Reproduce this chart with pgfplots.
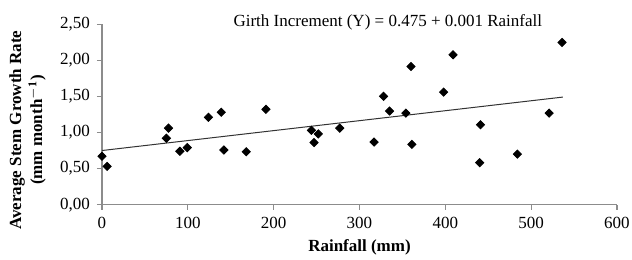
\documentclass[border=0pt]{standalone}
\usepackage{fontspec}
\setmainfont{Liberation Serif}
\usepackage{pgfplots}
\pgfplotsset{compat=1.18}
\definecolor{axgray}{HTML}{8C8C8C}
\begin{document}
\begin{tikzpicture}
\begin{axis}[
  at={(0,0)}, anchor=south west,
  scale only axis,
  width=257.5pt, height=90.3pt,
  xmin=0, xmax=600, ymin=0, ymax=2.5,
  xtick={0,100,...,600},
  ytick={0,0.5,...,2.5},
  axis x line*=bottom, axis y line*=left,
  axis line style={axgray, line width=0.6pt},
  tick style={axgray, line width=0.6pt},
  tick align=outside,
  major tick length=2.5pt,
  /pgf/number format/assume math mode=true,
  tick label style={font=\fontsize{8.5}{10}\selectfont, text=black},
  y tick label style={/pgf/number format/.cd, fixed, fixed zerofill, precision=2, use comma},
  x tick label style={/pgf/number format/.cd, fixed, precision=0},
  xlabel={\textbf{Rainfall (mm)}},
  xlabel style={font=\fontsize{8.5}{10}\selectfont, at={(axis description cs:0.5,0)}, anchor=center, yshift=-21.5pt},
  ylabel={\textbf{Average Stem Growth Rate}\\\textbf{(mm month$^{\mathbf{-1}}$)}},
  ylabel style={font=\fontsize{8.5}{10.5}\selectfont, align=center, at={(axis description cs:-0.1447,0.413)}, anchor=center, rotate=0},
  clip=false,
]
\addplot[only marks, mark=square*, mark size=1.45pt, mark options={rotate=45, fill=black, draw=black}] coordinates {
(0,0.67) (6,0.53) (75,0.92) (77.5,1.06) (90.7,0.74) (99.3,0.79)
(124,1.21) (139,1.28) (142,0.757) (168,0.733) (191,1.32)
(244,1.03) (247,0.86) (252,0.98) (277,1.06) (317,0.867)
(328,1.50) (335,1.296) (354,1.268) (360,1.914) (361,0.835)
(398,1.559) (409,2.075) (441,1.107) (440,0.581) (484,0.70)
(521,1.268) (536,2.246)
};
\addplot[no marks, black!80, line width=0.5pt] coordinates {(0,0.75) (537,1.49)};
\node[font=\fontsize{8.5}{10}\selectfont, anchor=center] at (axis cs:333,2.53) {Girth Increment (Y) = 0.475 + 0.001 Rainfall};
\end{axis}
\pgfresetboundingbox
\path[use as bounding box] (-51pt,-27.15pt) rectangle (265pt,102.35pt);
\end{tikzpicture}
\end{document}
